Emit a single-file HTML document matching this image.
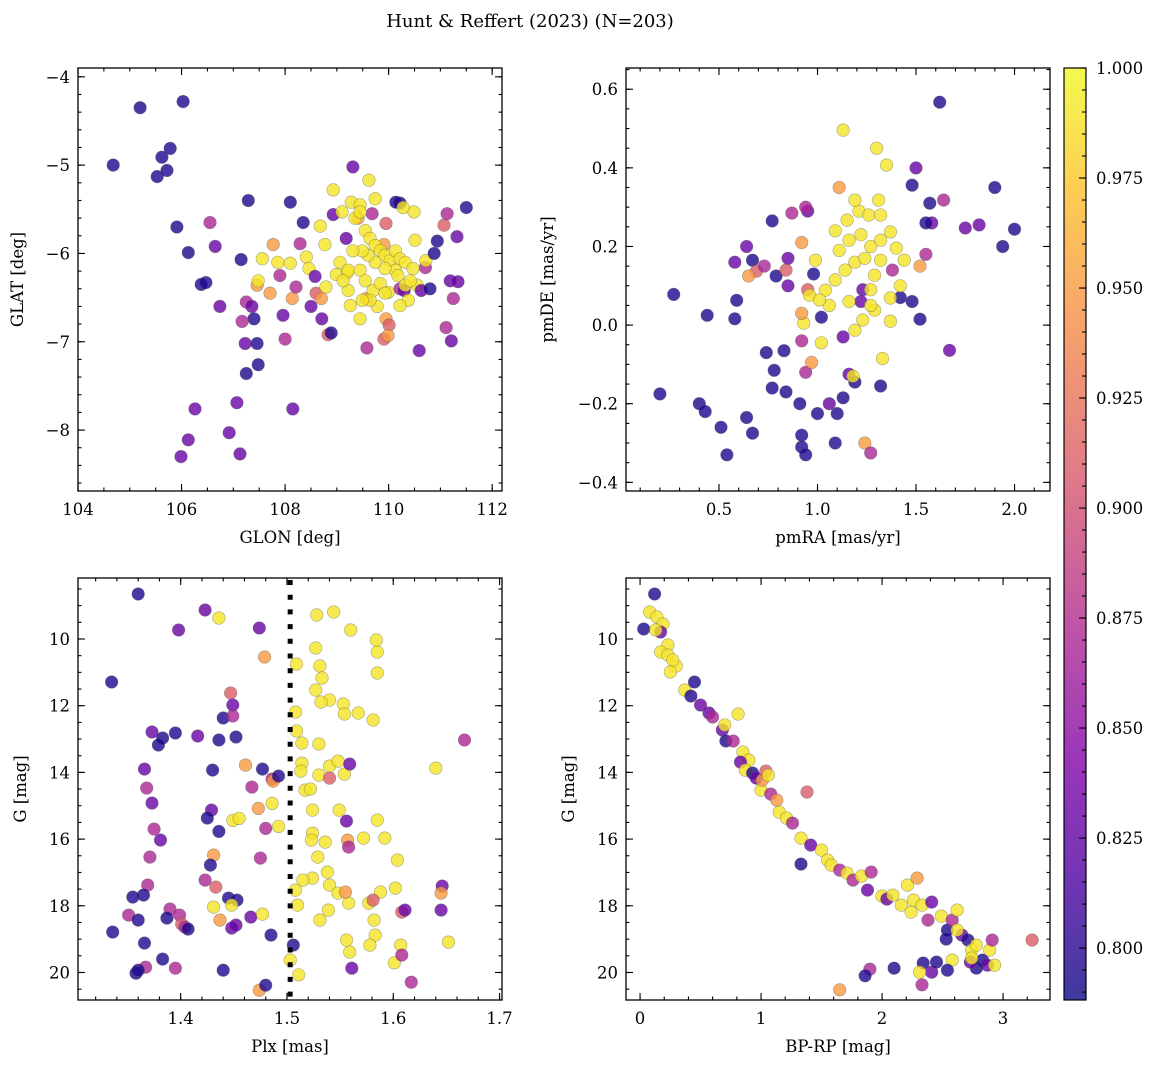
<!DOCTYPE html>
<html><head><meta charset="utf-8">
<style>
html,body{margin:0;padding:0;background:#fff;}
svg text{font-family:"DejaVu Serif","Liberation Serif",serif;fill:#000;}
</style></head>
<body>
<svg id="fig" width="1161" height="1067" viewBox="0 0 1161 1067" xmlns="http://www.w3.org/2000/svg">
<defs>
<linearGradient id="plasma" x1="0" y1="1" x2="0" y2="0">
<stop offset="0" stop-color="#0d0887"/><stop offset="0.125" stop-color="#4c02a1"/><stop offset="0.25" stop-color="#7e03a8"/><stop offset="0.375" stop-color="#a82296"/><stop offset="0.5" stop-color="#cb4679"/><stop offset="0.625" stop-color="#e56b5d"/><stop offset="0.75" stop-color="#f89441"/><stop offset="0.875" stop-color="#fdc328"/><stop offset="1" stop-color="#f0f921"/>
</linearGradient>
</defs>
<text x="530" y="27" font-size="18" text-anchor="middle">Hunt &amp; Reffert (2023) (N=203)</text>
</svg>
<script>
// ---- Panel 1: GLON vs GLAT ----
const glon1=[105.20,106.03,104.68,105.62,105.78,105.53,105.72,105.91,106.13,106.55,106.65,106.38,106.47,106.74,107.29,107.15,107.25,107.36,107.40,107.17,107.23,107.46,107.25,107.48,107.07,106.92,106.26,106.13,105.99,107.13,108.15,108.10,107.96,108.00,107.71,107.46,107.48,107.56,107.77,107.86,108.10,107.90,108.14,108.21,108.29,108.35,108.41,108.46,108.58,108.50,108.60,108.70,108.79,108.71,108.83,108.89,108.77,108.68,108.93,109.10,109.18,109.06,108.99,109.20,109.31,108.93,109.28,109.45,109.41,109.57,109.58,109.68,109.62,109.74,109.95,109.91,109.78,109.95,110.01,109.91,109.99,110.22,110.30,110.71,110.55,110.72,110.63,110.51,110.49,110.80,110.94,110.88,110.59,111.07,111.13,111.11,111.19,111.25,111.21,111.32,111.50,111.34,110.22,110.14,110.28,
109.35,109.45,109.55,109.64,109.74,109.84,109.93,110.03,110.13,110.22,110.32,110.13,109.93,109.74,109.60,109.49,109.31,109.22,109.45,109.55,109.70,109.84,109.99,110.18,110.32,110.42,110.47,110.38,110.22,109.93,109.64,109.49,109.22,109.12,109.26,109.45];
const glat1=[-4.35,-4.28,-5.00,-4.91,-4.81,-5.13,-5.06,-5.70,-5.99,-5.65,-5.92,-6.35,-6.33,-6.60,-5.40,-6.07,-6.55,-6.60,-6.74,-6.77,-7.02,-7.02,-7.36,-7.26,-7.69,-8.03,-7.76,-8.11,-8.30,-8.27,-7.76,-5.42,-6.70,-6.97,-6.45,-6.36,-6.31,-6.06,-5.90,-6.10,-6.11,-6.25,-6.51,-6.38,-5.89,-5.65,-6.04,-6.17,-6.26,-6.60,-6.45,-6.51,-6.38,-6.74,-6.92,-6.90,-5.90,-5.69,-5.56,-5.53,-5.83,-6.10,-6.24,-6.22,-5.02,-5.28,-5.42,-5.45,-5.60,-6.51,-7.07,-5.55,-5.17,-5.38,-5.66,-5.90,-6.60,-6.74,-6.81,-6.97,-6.93,-6.40,-6.42,-6.16,-6.36,-6.08,-6.42,-5.85,-5.53,-6.40,-5.86,-6.00,-7.10,-5.68,-5.55,-6.84,-6.31,-6.51,-6.99,-5.81,-5.48,-6.32,-5.43,-5.42,-5.48,
-5.60,-5.53,-5.74,-5.83,-5.91,-5.97,-6.02,-6.08,-5.97,-6.06,-6.10,-6.19,-6.17,-6.10,-6.02,-5.97,-5.97,-6.19,-6.19,-6.31,-6.42,-6.34,-6.44,-6.25,-6.36,-6.31,-6.17,-6.53,-6.59,-6.45,-6.53,-6.53,-6.42,-6.31,-6.59,-6.74];
const prob1=[.795,.795,.795,.795,.795,.795,.795,.795,.795,.87,.83,.795,.795,.83,.795,.795,.87,.83,.795,.87,.83,.795,.795,.795,.83,.83,.83,.83,.83,.83,.83,.795,.83,.87,.95,.95,.99,.99,.95,.99,.99,.87,.95,.87,.87,.795,.99,.99,.83,.83,.91,.95,.99,.83,.91,.795,.99,.99,.83,.99,.83,.99,.99,.99,.83,.99,.99,.99,.95,.95,.87,.87,.99,.99,.91,.95,.99,.95,.91,.91,.95,.87,.83,.87,.99,.99,.83,.99,.99,.795,.795,.795,.83,.91,.87,.87,.83,.87,.83,.83,.795,.83,.795,.795,.99,
.99,.99,.99,.99,.99,.99,.99,.99,.99,.99,.99,.99,.99,.99,.99,.99,.99,.99,.99,.99,.99,.99,.99,.99,.99,.99,.99,.99,.99,.99,.99,.99,.99,.99,.99,.99];

// ---- Panel 2: pmRA vs pmDE ----
const pmra2=[1.62,1.13,1.30,1.35,1.11,1.50,1.64,1.57,1.48,1.90,1.82,1.75,2.00,1.94,1.67,1.52,0.27,0.20,0.44,0.40,0.43,0.51,0.54,0.67,0.64,0.58,0.59,0.64,0.58,0.67,0.69,0.65,0.73,0.77,0.79,0.84,0.87,0.95,0.94,0.83,0.74,0.78,0.77,0.84,0.91,0.92,0.92,0.94,1.00,1.10,1.09,1.13,1.19,1.06,1.16,0.94,0.92,0.97,1.18,1.24,1.27,1.32,1.33,1.37,0.93,0.92,1.02,1.13,1.02,1.23,1.22,1.38,1.42,1.48,1.55,1.52,1.58,1.55,0.98,0.85,0.85,0.95,0.92,
0.96,1.04,1.09,1.14,1.19,1.24,1.06,1.16,1.27,1.29,1.32,1.11,1.16,1.22,1.27,1.32,1.37,1.09,1.15,1.21,1.26,0.99,1.01,1.23,1.19,1.29,1.37,1.42,1.44,1.40,1.31,1.32,1.19,1.27];
const pmde2=[0.567,0.496,0.45,0.407,0.35,0.40,0.318,0.31,0.356,0.35,0.255,0.247,0.244,0.20,-0.064,0.015,0.078,-0.175,0.025,-0.20,-0.22,-0.26,-0.33,-0.275,-0.235,0.016,0.063,0.20,0.16,0.165,0.137,0.125,0.15,0.265,0.125,0.14,0.285,0.29,0.30,-0.065,-0.07,-0.115,-0.16,-0.17,-0.20,-0.28,-0.31,-0.33,-0.225,-0.225,-0.30,-0.185,-0.145,-0.20,-0.125,-0.12,-0.04,-0.095,-0.13,-0.30,-0.325,-0.155,-0.085,0.01,0.005,0.03,-0.045,-0.03,0.02,0.09,0.06,0.14,0.07,0.06,0.18,0.15,0.26,0.26,0.13,0.17,0.10,0.09,0.21,
0.076,0.089,0.115,0.14,0.16,0.17,0.05,0.06,0.09,0.127,0.165,0.19,0.216,0.23,0.20,0.216,0.237,0.24,0.267,0.29,0.28,0.165,0.064,0.013,-0.013,0.038,0.069,0.10,0.165,0.196,0.318,0.28,0.318,0.05];
const prob2=[.795,.99,.99,.99,.95,.83,.87,.795,.795,.795,.83,.83,.795,.795,.83,.795,.795,.795,.795,.795,.795,.795,.795,.795,.795,.795,.795,.83,.83,.795,.91,.95,.87,.795,.795,.91,.87,.83,.87,.795,.795,.795,.795,.795,.795,.795,.795,.795,.795,.795,.795,.795,.795,.83,.83,.87,.87,.95,.99,.95,.87,.795,.99,.99,.99,.95,.99,.83,.795,.83,.83,.87,.795,.795,.87,.95,.83,.795,.795,.83,.83,.91,.95,
.99,.99,.99,.99,.99,.99,.99,.99,.99,.99,.99,.99,.99,.99,.99,.99,.99,.99,.99,.99,.99,.99,.99,.99,.99,.99,.99,.99,.99,.99,.99,.99,.99,.99];

// ---- Panel 3: Plx vs G ----
const plx3=[1.360,1.335,1.398,1.423,1.436,1.474,1.479,1.373,1.383,1.379,1.395,1.416,1.436,1.452,1.440,1.447,1.449,1.449,1.430,1.366,1.368,1.373,1.477,1.461,1.467,1.486,1.487,1.492,1.375,1.381,1.371,1.429,1.425,1.436,1.449,1.455,1.473,1.480,1.486,1.492,1.431,1.428,1.475,1.423,1.369,1.433,1.365,1.355,1.445,1.453,1.431,1.448,1.448,1.452,1.437,1.390,1.399,1.401,1.404,1.407,1.351,1.360,1.336,1.366,1.367,1.358,1.360,1.383,1.395,1.440,1.474,1.480,1.485,1.466,1.387,1.477,
1.509,1.527,1.531,1.533,1.527,1.540,1.553,1.585,1.585,1.528,1.544,1.560,1.584,1.567,1.581,1.554,1.532,1.508,1.509,1.514,1.530,1.514,1.530,1.513,1.517,1.522,1.540,1.548,1.554,1.549,1.524,1.524,1.536,1.523,1.529,1.524,1.538,1.540,1.548,1.515,1.508,1.510,1.539,1.511,1.503,1.531,1.556,1.559,1.585,1.592,1.588,1.582,1.583,1.602,1.601,1.607,1.578,1.577,1.558,1.604,1.572,1.640,1.652,
1.667,1.646,1.645,1.645,1.557,1.555,1.556,1.559,1.561,1.506,1.558,1.581,1.608,1.611,1.608,1.617,1.540];
const gmag3=[8.65,11.29,9.73,9.13,9.37,9.67,10.54,12.79,12.97,13.18,12.82,12.91,13.03,12.94,12.37,11.62,11.98,12.31,13.93,13.90,14.47,14.92,13.90,13.78,14.44,14.20,14.26,14.11,15.70,16.03,16.54,15.13,15.37,15.77,15.44,15.38,15.08,15.68,14.93,15.62,16.48,16.78,16.57,17.23,17.38,17.44,17.68,17.74,17.77,17.83,18.04,17.98,18.67,18.58,18.43,18.10,18.28,18.55,18.64,18.70,18.28,18.43,18.79,19.12,19.84,20.02,19.93,19.60,19.87,19.93,20.53,20.38,18.88,18.34,18.37,18.25,
10.75,10.27,10.81,11.17,11.53,11.83,11.95,10.39,11.02,9.28,9.19,9.73,10.03,12.22,12.43,12.25,11.89,12.19,12.76,13.12,13.15,13.72,14.08,13.96,14.53,14.50,13.81,13.66,14.05,15.13,15.13,15.82,16.09,16.03,16.54,17.17,16.99,17.38,17.62,17.23,17.53,17.98,18.13,20.07,19.63,18.43,19.03,19.39,15.43,15.97,17.59,18.43,18.88,17.47,19.71,19.18,19.18,17.92,17.92,16.63,15.97,13.87,19.09,
13.03,17.41,17.62,18.13,16.03,17.59,15.46,13.75,19.87,19.18,16.24,17.83,18.19,18.13,19.48,20.29,14.17];
const prob3=[.795,.795,.83,.83,.99,.83,.95,.83,.795,.795,.795,.83,.795,.795,.795,.91,.83,.87,.795,.83,.87,.83,.795,.95,.87,.87,.95,.795,.87,.83,.87,.83,.795,.795,.99,.99,.95,.87,.99,.99,.95,.795,.87,.87,.87,.91,.795,.795,.795,.795,.99,.99,.83,.83,.95,.87,.87,.91,.87,.795,.87,.795,.795,.795,.87,.795,.795,.795,.87,.795,.95,.795,.795,.83,.795,.99,
.99,.99,.99,.99,.99,.99,.99,.99,.99,.99,.99,.99,.99,.99,.99,.99,.99,.99,.99,.99,.99,.99,.99,.99,.99,.99,.99,.99,.99,.99,.99,.99,.99,.99,.99,.99,.99,.99,.99,.99,.99,.99,.99,.99,.99,.99,.99,.99,.99,.99,.99,.99,.99,.99,.99,.99,.99,.99,.99,.99,.99,.99,.99,
.87,.83,.95,.83,.95,.95,.83,.83,.83,.795,.87,.91,.91,.83,.87,.87,.91];

// ---- Panel 4: BP-RP vs G ----
const bprp4=[0.12,0.03,0.08,0.14,0.19,0.17,0.13,0.23,0.17,0.23,0.30,0.27,0.25,0.37,0.42,0.45,0.50,0.57,0.60,0.68,0.71,0.70,0.77,0.81,0.85,0.90,0.83,0.87,0.93,0.96,1.00,1.01,1.04,1.06,1.08,1.15,1.13,1.21,1.26,1.33,1.38,1.41,1.50,1.55,1.58,1.65,1.71,1.76,1.83,1.88,1.91,2.00,2.04,2.09,2.16,2.21,2.24,2.26,2.29,2.33,2.38,2.41,2.49,2.54,2.58,2.62,2.66,2.71,2.74,2.78,2.83,2.87,2.89,2.91,2.93,2.78,2.73,2.74,2.62,2.53,2.58,2.41,2.34,2.54,2.45,2.31,1.90,1.65,2.10,2.33,3.24,1.33,1.86];
const gmag4=[8.65,9.70,9.19,9.34,9.55,9.79,9.73,10.18,10.39,10.48,10.81,10.63,10.99,11.53,11.71,11.29,11.98,12.22,12.34,12.73,13.06,12.58,13.06,12.25,13.39,13.63,13.69,13.93,14.02,14.17,14.53,14.23,13.96,14.08,14.65,15.19,14.83,15.37,15.52,15.97,14.59,16.18,16.33,16.63,16.78,16.93,17.02,17.23,17.11,17.53,16.99,17.71,17.80,17.68,17.98,17.38,18.19,17.83,17.17,17.98,18.43,17.89,18.31,18.73,18.43,18.13,18.88,19.03,19.33,19.18,19.63,19.78,19.33,19.03,19.78,19.87,19.69,19.57,18.73,19.00,19.63,19.99,19.72,19.93,19.69,19.99,19.90,20.52,19.87,20.37,19.03,16.75,20.10];
const prob4=[.795,.795,.99,.99,.99,.83,.99,.99,.99,.99,.99,.99,.99,.99,.795,.795,.83,.83,.87,.83,.795,.99,.87,.99,.99,.99,.83,.99,.795,.83,.99,.95,.91,.99,.87,.99,.95,.99,.87,.99,.91,.83,.99,.99,.99,.87,.99,.87,.99,.83,.87,.99,.83,.99,.99,.99,.99,.99,.95,.99,.87,.83,.99,.795,.87,.99,.83,.795,.99,.99,.795,.83,.99,.87,.99,.795,.83,.99,.99,.795,.99,.83,.795,.795,.795,.99,.87,.95,.795,.87,.91,.795,.795];

const cmin=0.7882, cmax=1.0;
const stops=[[13,8,135],[76,2,161],[126,3,168],[168,34,150],[203,70,121],[229,107,93],[248,148,65],[253,195,40],[240,249,33]];
function plasma(v){let t=Math.max(0,Math.min(1,(v-cmin)/(cmax-cmin)))*8;let i=Math.min(7,Math.floor(t));let f=t-i;const a=stops[i],b=stops[i+1];return 'rgb('+a.map((c,k)=>Math.round(c+(b[k]-c)*f)).join(',')+')';}

const NS='http://www.w3.org/2000/svg';
const svg=document.getElementById('fig');
function el(tag,attrs,parent){const e=document.createElementNS(NS,tag);for(const k in attrs)e.setAttribute(k,attrs[k]);(parent||svg).appendChild(e);return e;}
function fmt(v,dec){let s=v.toFixed(dec);if(v<0)s='\u2212'+s.slice(1);return s;}
function range(a,b,step){const out=[];const n=Math.round((b-a)/step);for(let i=0;i<=n;i++)out.push(+(a+i*step).toFixed(6));return out;}

function panel(cfg){
  const g=el('g',{});
  
  
  const {L,R,T,B}=cfg;
  const sx=v=>L+(v-cfg.xd[0])/(cfg.xd[1]-cfg.xd[0])*(R-L);
  const sy=cfg.yinv? (v=>T+(v-cfg.yd[0])/(cfg.yd[1]-cfg.yd[0])*(B-T)) : (v=>B-(v-cfg.yd[0])/(cfg.yd[1]-cfg.yd[0])*(B-T));
  const pts=el('g',{},g);
  
  
  for(let i=0;i<cfg.xs.length;i++){
    const c=el('circle',{cx:sx(cfg.xs[i]).toFixed(1),cy:sy(cfg.ys[i]).toFixed(1),r:6.3,fill:plasma(cfg.cs[i]),'fill-opacity':0.8,stroke:'#555','stroke-opacity':0.5,'stroke-width':0.6},pts);
    
    
  }
  if(cfg.extra)cfg.extra(g,sx,sy);
  const fr=el('rect',{x:L,y:T,width:R-L,height:B-T,fill:'none',stroke:'#000','stroke-width':1.3},g);
  
  
  const tk=el('g',{stroke:'#000','stroke-width':1.1},g);
  
  
  const inX=v=>v>=Math.min(...cfg.xd)-1e-9&&v<=Math.max(...cfg.xd)+1e-9;
  const inY=v=>v>=Math.min(...cfg.yd)-1e-9&&v<=Math.max(...cfg.yd)+1e-9;
  range(cfg.xminor[0],cfg.xminor[1],cfg.xminor[2]).filter(inX).forEach(v=>{const x=sx(v);el('line',{x1:x,x2:x,y1:B,y2:B-3.5},tk);el('line',{x1:x,x2:x,y1:T,y2:T+3.5},tk);});
  range(cfg.yminor[0],cfg.yminor[1],cfg.yminor[2]).filter(inY).forEach(v=>{const y=sy(v);el('line',{x1:L,x2:L+3.5,y1:y,y2:y},tk);el('line',{x1:R,x2:R-3.5,y1:y,y2:y},tk);});
  const xl=el('g',{'font-size':16.5,'text-anchor':'middle'},g);
  
  
  cfg.xticks.forEach(v=>{const x=sx(v);el('line',{x1:x,x2:x,y1:B,y2:B-7},tk);el('line',{x1:x,x2:x,y1:T,y2:T+7},tk);const t=el('text',{x:x,y:B+24},xl);t.textContent=fmt(v,cfg.xdec);});
  const yl=el('g',{'font-size':16.5,'text-anchor':'end'},g);
  
  
  cfg.yticks.forEach(v=>{const y=sy(v);el('line',{x1:L,x2:L+7,y1:y,y2:y},tk);el('line',{x1:R,x2:R-7,y1:y,y2:y},tk);const t=el('text',{x:L-8,y:y+6},yl);t.textContent=fmt(v,cfg.ydec);});
  const xt=el('text',{x:(L+R)/2,y:B+52,'font-size':16.5,'text-anchor':'middle'},g);
  xt.textContent=cfg.xlabel;
  
  
  const yt=el('text',{x:0,y:0,'font-size':16.5,'text-anchor':'middle',transform:'translate('+cfg.ylx+','+((T+B)/2)+') rotate(-90)'},g);
  yt.textContent=cfg.ylabel;
  
  
}

panel({name:'glon-glat-panel',L:78,R:502,T:68,B:491,xd:[104,112.19],yd:[-8.69,-3.90],xs:glon1,ys:glat1,cs:prob1,
  xticks:[104,106,108,110,112],xdec:0,xminor:[104,112,0.5],yticks:[-8,-7,-6,-5,-4],ydec:0,yminor:[-8.6,-3.8,0.2],xlabel:'GLON [deg]',ylabel:'GLAT [deg]',ylx:23});
panel({name:'proper-motion-panel',L:626,R:1050,T:68,B:491,xd:[0.028,2.180],yd:[-0.422,0.654],xs:pmra2,ys:pmde2,cs:prob2,
  xticks:[0.5,1.0,1.5,2.0],xdec:1,xminor:[0.1,2.1,0.1],yticks:[-0.4,-0.2,0,0.2,0.4,0.6],ydec:1,yminor:[-0.4,0.65,0.05],xlabel:'pmRA [mas/yr]',ylabel:'pmDE [mas/yr]',ylx:553});
panel({name:'parallax-panel',L:78,R:502,T:578,B:1000,xd:[1.3034,1.7023],yd:[8.171,20.825],yinv:true,xs:plx3,ys:gmag3,cs:prob3,
  xticks:[1.4,1.5,1.6,1.7],xdec:1,xminor:[1.32,1.70,0.02],yticks:[10,12,14,16,18,20],ydec:0,yminor:[8.5,20.5,0.5],xlabel:'Plx [mas]',ylabel:'G [mag]',ylx:26,
  extra:(g,sx,sy)=>{const ln=el('line',{x1:sx(1.503),x2:sx(1.503),y1:580,y2:1000,stroke:'#000','stroke-width':5,'stroke-dasharray':'5,9.7'},g);}});
panel({name:'cmd-panel',L:626,R:1050,T:578,B:1000,xd:[-0.116,3.388],yd:[8.171,20.825],yinv:true,xs:bprp4,ys:gmag4,cs:prob4,
  xticks:[0,1,2,3],xdec:0,xminor:[0,3.2,0.2],yticks:[10,12,14,16,18,20],ydec:0,yminor:[8.5,20.5,0.5],xlabel:'BP-RP [mag]',ylabel:'G [mag]',ylx:574});

const cbTicks=[0.800,0.825,0.850,0.875,0.900,0.925,0.950,0.975,1.000];
(function(){
  const g=el('g',{});
  
  
  const L=1064,R=1086,T=68,B=1000;
  const sy=v=>B-(v-cmin)/(cmax-cmin)*(B-T);
  const r=el('rect',{x:L,y:T,width:R-L,height:B-T,fill:'url(#plasma)','fill-opacity':0.8},g);
  
  
  el('rect',{x:L,y:T,width:R-L,height:B-T,fill:'none',stroke:'#000','stroke-width':1.2},g);
  range(0.790,1.0,0.005).forEach(v=>{const y=sy(v);el('line',{x1:R,x2:R-4,y1:y,y2:y,stroke:'#000','stroke-width':1.1},g);});
  cbTicks.forEach(v=>{const y=sy(v);el('line',{x1:R,x2:R-7,y1:y,y2:y,stroke:'#000','stroke-width':1.1},g);const t=el('text',{x:R+10,y:y+6,'font-size':16.5},g);t.textContent=v.toFixed(3);
    
    });
})();
</script>
</body></html>
